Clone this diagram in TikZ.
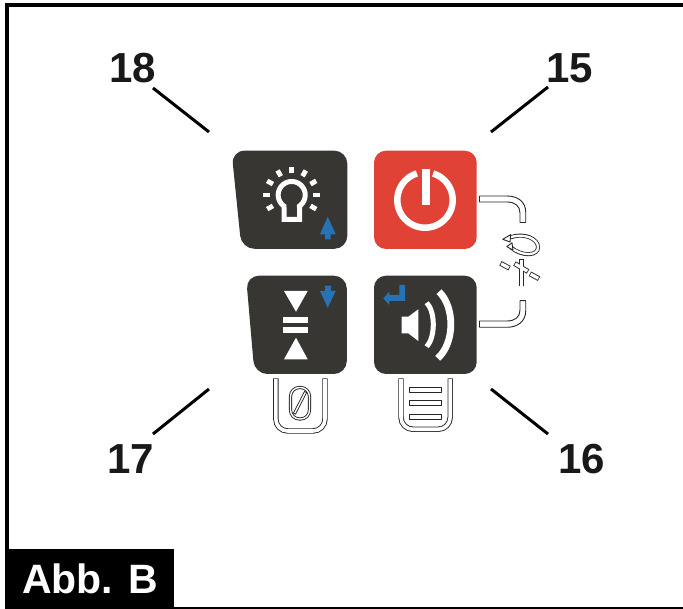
\documentclass[tikz,border=0pt]{standalone}
\usepackage{fontspec}
\setmainfont{Liberation Sans}
\definecolor{panel}{HTML}{373633}
\definecolor{redp}{HTML}{E04335}
\definecolor{bluea}{HTML}{2672B5}
\tikzset{
  x=1pt,y=-1pt,
  num/.style={font=\fontsize{42}{42}\selectfont\bfseries,text=black!90,inner sep=0pt},
  leader/.style={draw=black,line width=3pt},
  ico/.style={draw=white,line width=5pt,miter limit=10},
  whitefill/.style={fill=white,draw=none},
  bluefill/.style={fill=bluea,draw=none},
  outl/.style={draw=black!85,line width=0.9pt,fill=white,line join=round},
  blk/.style={draw=black!85,line width=#1},
  wht/.style={draw=white,line width=#1},
}
\begin{document}
\begin{tikzpicture}
\useasboundingbox (0,0) rectangle (683,609);
\fill[white] (0,0) rectangle (683,609);
% frame
\fill[black] (5,3.5) rectangle (683,7.3);
\fill[black] (5,3.5) rectangle (9,560);
\fill[black] (5,607.3) rectangle (683,609);
\fill[black] (5,549) rectangle (173.5,608.5);
\node[font=\fontsize{41}{41}\selectfont\bfseries,text=white,inner sep=0pt] (abb) at (90,579) {Abb. B};
% numbers and leaders
\node[num] (n18) at (133,68) {18};
\node[num] (n15) at (570,68) {15};
\node[num] (n17) at (131,459) {17};
\node[num] (n16) at (581.5,459) {16};
\coordinate (s18) at (153,88);\coordinate (l18) at (209,132);
\coordinate (s15) at (548,87);\coordinate (l15) at (491,132);
\coordinate (s17) at (153,434);\coordinate (l17) at (209,389);
\coordinate (s16) at (548,434);\coordinate (l16) at (491,389);
\draw[leader] (s18) -- (l18);
\draw[leader] (s15) -- (l15);
\draw[leader] (s17) -- (l17);
\draw[leader] (s16) -- (l16);
% panel 18
\fill[panel,rounded corners=13pt] (231.5,150.7) -- (347.3,150.7) -- (347.3,248.8) -- (241.5,248.8) -- cycle;
\draw[ico] (284,219.5) -- (284,207.5)
  -- plot[domain=125:415,samples=60] ({291.7+13.5*cos(\x)},{195+13.5*sin(\x)})
  -- (299.5,207.5) -- (299.5,219.5) -- cycle;
\foreach \a in {0,30,150,180,210,240,270,300,330}
  \draw[draw=white,line width=4.8pt] ({291.7+21.7*cos(\a)},{195+21.7*sin(\a)}) -- ({291.7+28.3*cos(\a)},{195+28.3*sin(\a)});
\fill[bluefill] (327.7,216.7) -- (335.7,234.3) -- (330.7,234.3) -- (330.7,239.3) -- (325,239.3) -- (325,234.3) -- (320,234.3) -- cycle;
% panel 15
\fill[redp,rounded corners=12pt] (374,150.7) rectangle (476.7,249);
\draw[draw=white,line width=6.5pt] plot[domain=-73:253,samples=80] ({425+27.7*cos(\x)},{200+27.7*sin(\x)});
\fill[whitefill] (421.7,169) rectangle (430,205);
% panel 17
\fill[panel,rounded corners=13pt] (246,275.7) -- (346.8,275.7) -- (346.8,374) -- (254.5,374) -- cycle;
\fill[whitefill] (284,291) -- (307.7,291) -- (296,311.7) -- cycle;
\fill[whitefill] (283.3,317.3) rectangle (308.3,323.3);
\fill[whitefill] (283.3,326.7) rectangle (308.3,332.7);
\fill[whitefill] (296,337.7) -- (307.7,359.3) -- (284,359.3) -- cycle;
\fill[bluefill] (325,285.7) -- (331,285.7) -- (331,291) -- (335.7,291) -- (327.7,307.7) -- (320,291) -- (325,291) -- cycle;
% panel 16
\fill[panel,rounded corners=12pt] (374,275.7) rectangle (476.7,374);
\fill[bluefill] (399.3,285) -- (405,285) -- (405,301) -- (389.3,301) -- (389.3,305) -- (383.3,298.3) -- (389.3,291.7) -- (389.3,295) -- (399.3,295) -- cycle;
\fill[whitefill] (401.7,316.7) -- (408.3,316.7) -- (418.3,309.3) -- (418.3,341) -- (408.3,333.3) -- (401.7,333.3) -- cycle;
\draw[draw=white,line width=5pt] (426.7,302.7) .. controls (435.5,312) and (435.5,337) .. (426.7,346.7);
\draw[draw=white,line width=6.8pt] (439,291.7) .. controls (455,307) and (455,343) .. (437.7,358.3);
% hooks
\draw[outl] (479.5,196) -- (507,196) .. controls (518,196) and (525.7,202) .. (525.7,212) -- (525.7,222.5) -- (520,222.5) -- (520,213) .. controls (520,206) and (515,202) .. (507,202) -- (479.5,202) -- cycle;
\draw[outl] (479.5,327.3) -- (507,327.3) .. controls (518,327.3) and (525.7,321) .. (525.7,311) -- (525.7,300.7) -- (520,300.7) -- (520,310) .. controls (520,317) and (515,321) .. (507,321) -- (479.5,321) -- cycle;
% rotation symbol
\draw[blk=4pt] (510,237.5) .. controls (524,232) and (538,239) .. (538,247) .. controls (538.5,256) and (522,257) .. (511,247.5);
\draw[wht=2.3pt] (509,237.8) .. controls (524,232) and (538,239) .. (538,247) .. controls (538.5,256) and (522,257) .. (510,246.8);
\draw[outl] (502.7,239.3) -- (510.7,234.6) -- (510,242) -- cycle;
\draw[outl] (506.8,246.7) -- (512,242.8) -- (513,250) -- cycle;
% plus and dashes
\draw[blk=5pt] (521.3,259.5) -- (521.3,286.5);
\draw[blk=5pt] (514.5,263.5) -- (528,271.5);
\draw[blk=5pt] (500.5,263.3) -- (509.5,268.2);
\draw[blk=5pt] (530,273.8) -- (539,278.7);
\draw[wht=3.2pt] (521.3,260.3) -- (521.3,285.7);
\draw[wht=3.2pt] (515.2,263.9) -- (527.3,271.1);
\draw[wht=3.2pt] (501.2,263.7) -- (508.8,267.8);
\draw[wht=3.2pt] (530.7,274.2) -- (538.3,278.3);
% clip 17
\draw[blk=5.4pt,rounded corners=12pt] (275.8,378.3) -- (275.8,431) -- (325,431) -- (325,378.3);
\draw[wht=3.6pt,rounded corners=12pt] (275.8,379.1) -- (275.8,431) -- (325,431) -- (325,379.1);
\draw[blk=3.2pt,rounded corners=9pt] (290.5,387.5) rectangle (309.5,419);
\draw[wht=1.4pt,rounded corners=9pt] (290.5,387.5) rectangle (309.5,419);
\draw[blk=3.2pt] (294.3,414) -- (305.7,391.7);
\draw[wht=1.4pt] (294.7,413.2) -- (305.3,392.5);
% clip 16
\draw[blk=5.4pt,rounded corners=12pt] (401,378.3) -- (401,429.3) -- (450.2,429.3) -- (450.2,378.3);
\draw[wht=3.6pt,rounded corners=12pt] (401,379.1) -- (401,429.3) -- (450.2,429.3) -- (450.2,379.1);
\draw[outl] (409.3,387.3) rectangle (441.7,392.3);
\draw[outl] (409.3,400.2) rectangle (441.7,405.4);
\draw[outl] (409.3,414) rectangle (441.7,419);
\end{tikzpicture}
\end{document}
